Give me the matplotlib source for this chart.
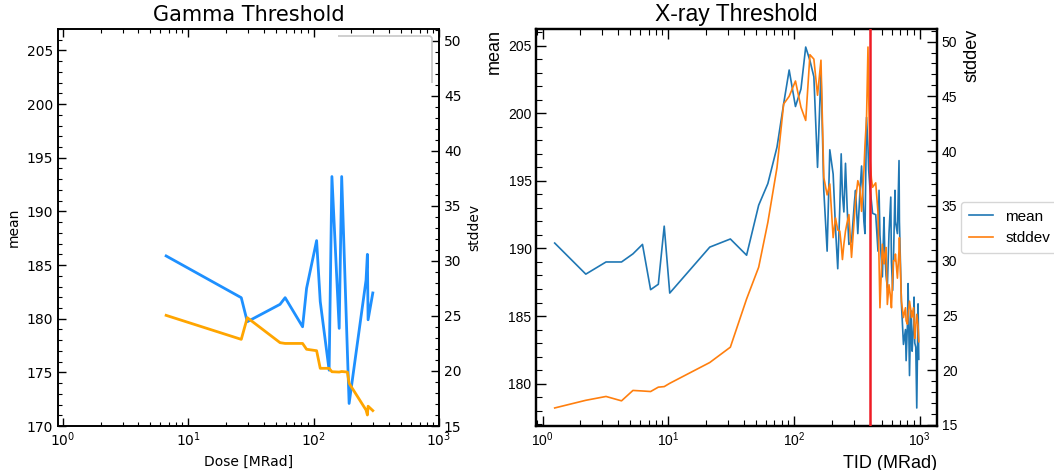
import matplotlib
matplotlib.use("Agg")
import matplotlib.pyplot as plt
from matplotlib.lines import Line2D
from matplotlib.patches import Rectangle
from matplotlib.transforms import IdentityTransform
from matplotlib.ticker import MultipleLocator

plt.rcParams["font.family"] = ["DejaVu Sans"]

# gamma irradiation
gamma_dose = [6.67, 26.5, 29.6, 54, 59.3, 81.7, 87.9, 105.7, 113, 133, 140,
              160, 167.5, 186, 192, 262, 268.5, 272, 296.6]
gamma_mean = [185.85, 181.96, 179.72, 181.34, 181.96, 179.25, 182.83, 187.28,
              181.6, 175.2, 193.25, 179.1, 193.25, 176.9, 172.1, 183.6, 186.0,
              179.9, 182.4]
gamma_std = [25.05, 22.87, 24.84, 22.57, 22.5, 22.5, 21.97, 21.84, 20.24,
             20.24, 19.93, 19.9, 19.95, 19.9, 18.88, 16.45, 16.0, 16.8, 16.4]

# x-ray irradiation
xray_tid = [1.25, 2.21, 3.2, 4.25, 5.24, 6.24, 7.24, 8.34, 9.29, 10.28,
            21.4, 31.2, 42, 52.4, 62, 73.3, 82.8, 91.6, 102.8, 113.7,
            124, 134, 144, 154, 164,
            172.7, 183.6, 192.8, 205, 214, 223, 231.5, 237.5, 243, 249.5,
            257, 265, 273.5, 287, 303, 309, 322, 334, 345, 360,
            367, 378, 388, 393, 402, 413, 422, 447, 466, 475,
            483, 505, 520, 527, 540, 553, 570, 589, 596, 610,
            618, 636, 641, 665, 685, 690, 716, 743, 771, 780,
            800, 809, 830, 850, 861, 871, 893, 902, 914, 931,
            948, 971, 984]
xray_mean = [190.4, 188.1, 189.0, 189.0, 189.6, 190.3, 186.95, 187.35, 191.65, 186.7,
             190.1, 190.7, 189.5, 193.2, 194.8, 197.5, 200.7, 203.2, 200.5, 201.8,
             204.9, 203.9, 202.7, 196.0, 203.1,
             194.3, 189.8, 197.3, 195.5, 191.5, 188.5, 193.0, 197.0, 194.0, 192.7,
             196.3, 193.0, 190.3, 190.5, 193.5, 194.3, 191.1, 194.0, 196.1, 192.0,
             191.1, 199.7, 197.5, 195.8, 194.5, 193.5, 192.6, 192.5, 189.8, 194.3,
             191.0, 187.9, 192.3, 190.0, 188.0, 187.1, 191.1, 193.8, 189.0, 186.9,
             189.0, 194.3, 192.0, 191.1, 196.5, 192.0, 185.9, 182.9, 184.0, 181.7,
             184.5, 187.4, 180.6, 185.4, 183.5, 182.4, 184.5, 186.4, 183.0, 182.7,
             178.2, 185.9, 181.8]
xray_std = [16.55, 17.25, 17.6, 17.2, 18.15, 18.1, 18.05, 18.45, 18.5, 18.8,
            20.7, 22.1, 26.5, 29.4, 33.5, 38.5, 44.3, 45.0, 46.4, 44.0,
            42.8, 48.8, 48.4, 45.1, 48.3,
            37.6, 36.0, 37.0, 32.1, 33.9, 32.8, 32.7, 31.5, 30.1, 31.5,
            32.7, 33.5, 34.2, 30.3, 34.1, 35.5, 37.3, 36.7, 34.5, 38.2,
            40.5, 43.1, 49.5, 45.0, 39.4, 37.5, 36.7, 37.1, 34.4, 30.0,
            25.7, 31.5, 29.7, 30.5, 31.2, 26.0, 27.8, 26.5, 25.7, 28.5,
            30.0, 30.0, 30.6, 28.4, 31.0, 32.1, 26.3, 24.8, 25.7, 24.5,
            24.2, 25.0, 26.3, 25.5, 24.8, 25.0, 25.7, 24.5, 22.9, 24.0,
            25.1, 24.0, 22.6]
xray_marker = 400

fig = plt.figure(figsize=(10.54, 4.70), dpi=100)

# ---- left: gamma ----
ax_g = fig.add_axes([0.0547, 0.0936, 0.3618, 0.8447])
ax_g2 = ax_g.twinx()
ax_g.plot(gamma_dose, gamma_mean, color="dodgerblue", lw=2)
ax_g2.plot(gamma_dose, gamma_std, color="orange", lw=2)
ax_g.set_xscale("log")
ax_g.set_xlim(0.91, 1000)
ax_g.set_ylim(170, 207)
ax_g2.set_ylim(15, 51.06)
ax_g.yaxis.set_minor_locator(MultipleLocator(1))
ax_g2.yaxis.set_minor_locator(MultipleLocator(1))
ax_g.set_title("Gamma Threshold", fontsize=15)
ax_g.set_xlabel("Dose [MRad]", fontsize=10)
ax_g.set_ylabel("mean", fontsize=10)
ax_g2.set_ylabel("stddev", fontsize=10)
ax_g.tick_params(which="both", direction="in", top=True, labelsize=10)
ax_g2.tick_params(which="both", direction="in", labelsize=10)
for a in (ax_g, ax_g2):
    a.tick_params(which="major", length=6, width=1)
    a.tick_params(which="minor", length=3, width=0.8)
    for s in a.spines.values():
        s.set_linewidth(1.2)

# empty legend box left over in the gamma panel
blank = [Line2D([], [], color="none"), Line2D([], [], color="none")]
leg_g = ax_g2.legend(blank, ["mean", "stddev"], loc="upper right", fontsize=10,
                     framealpha=1, labelspacing=0.8)
for t in leg_g.get_texts():
    t.set_alpha(0)
leg_g.get_frame().set_edgecolor("0.78")
leg_g.get_frame().set_linewidth(1.2)

# ---- right: x-ray ----
hep = "Liberation Sans"
ax_x = fig.add_axes([0.509, 0.0936, 0.380, 0.8447])
ax_x2 = ax_x.twinx()
l1, = ax_x.plot(xray_tid, xray_mean, color="#1f77b4", lw=1.2, label="mean")
l2, = ax_x2.plot(xray_tid, xray_std, color="#ff7f0e", lw=1.2, label="stddev")
ax_x2.axvline(xray_marker, color="#ee1c25", lw=1.8, zorder=5)
ax_x.set_xscale("log")
ax_x.yaxis.set_minor_locator(MultipleLocator(1))
ax_x2.yaxis.set_minor_locator(MultipleLocator(1))
ax_x.set_title("X-ray Threshold", fontsize=16.5, family=hep)
ax_x.set_xlabel("TID (MRad)", fontsize=13, family=hep, loc="right")
ax_x.set_ylabel("mean", fontsize=13, family=hep, loc="top")
ax_x2.set_ylabel("stddev", fontsize=13, family=hep, loc="top")
ax_x.tick_params(which="both", direction="in", top=True, labelsize=10)
ax_x2.tick_params(which="both", direction="in", labelsize=10)
for a in (ax_x, ax_x2):
    a.tick_params(which="major", length=7, width=1)
    a.tick_params(which="minor", length=4, width=0.8)
    for s in a.spines.values():
        s.set_linewidth(1.6)
ax_x2.legend([l1, l2], ["mean", "stddev"], loc="center left",
             bbox_to_anchor=(1.06, 0.5), borderaxespad=0, handlelength=1.6,
             borderpad=0.5, prop={"family": hep, "size": 11})

fig.canvas.draw()
for a in (ax_x, ax_x2):
    for lab in a.get_xticklabels() + a.get_yticklabels():
        lab.set_fontfamily(hep)

# only the top and right edges of the leftover box show in the original
bb = leg_g.get_frame().get_window_extent()
clip = Rectangle((bb.x0 + 3, bb.y0 + 3), bb.width + 3, bb.height + 3,
                 transform=IdentityTransform())
leg_g.get_frame().set_clip_path(clip)

fig.savefig("out.png", dpi=100)
